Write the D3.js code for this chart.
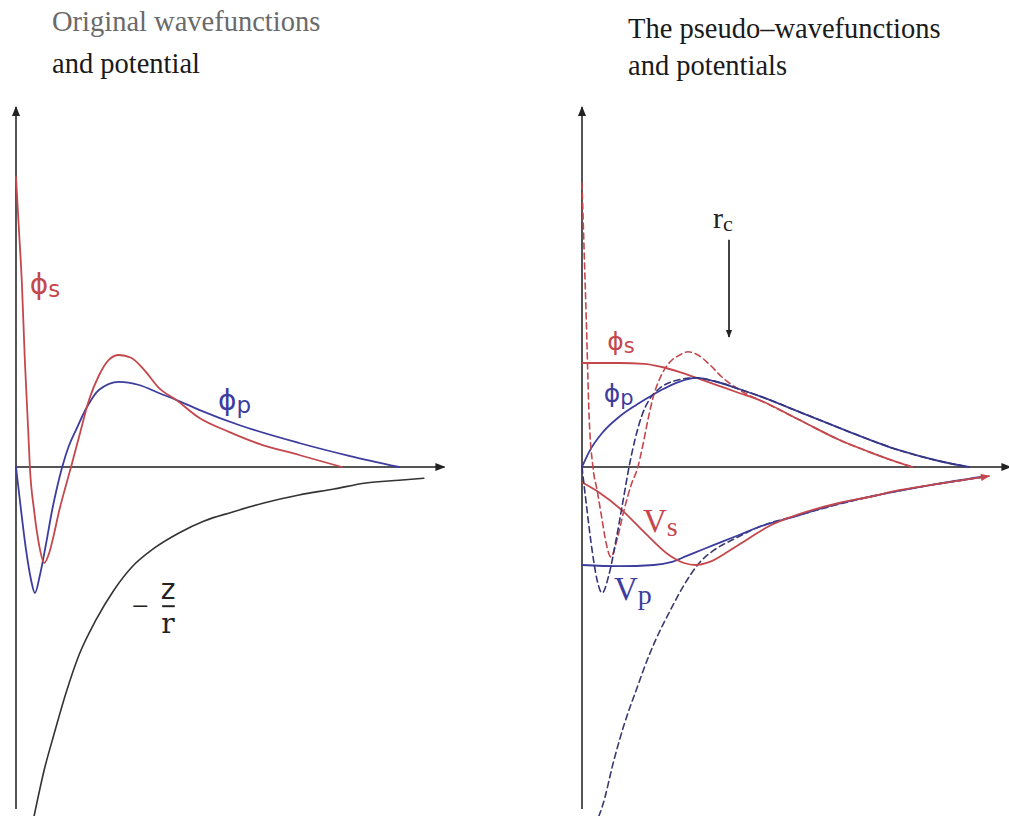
<!DOCTYPE html>
<html>
<head>
<meta charset="utf-8">
<script src="https://cdn.jsdelivr.net/npm/d3@7"></script>
<style>
  html, body { margin: 0; padding: 0; background: #fff; }
  svg { display: block; }
</style>
</head>
<body>
<svg id="chart" width="1009" height="816"></svg>
<script>
// ---- data: radial coordinate r and amplitude / potential value ----
// Left panel: all-electron wavefunctions and bare Coulomb potential
const phiS_ae_left = [[0,7.25],[0.07,5.93],[0.14,4.6],[0.21,2.68],[0.29,0.93],[0.33,0],[0.43,-1.08],[0.55,-1.95],[0.67,-2.4],[0.79,-2.15],[0.9,-1.7],[1.02,-1.13],[1.17,-0.53],[1.31,0],[1.5,0.75],[1.74,1.68],[1.98,2.3],[2.21,2.68],[2.45,2.8],[2.74,2.73],[3.05,2.43],[3.4,1.98],[3.81,1.68],[4.36,1.23],[5.07,0.88],[5.79,0.58],[6.74,0.3],[7.76,0]];
const phiP_ae_left = [[0,0],[0.12,-1.08],[0.24,-2.08],[0.36,-2.83],[0.45,-3.15],[0.57,-2.7],[0.71,-1.95],[0.86,-1.08],[0.98,-0.5],[1.1,0],[1.26,0.53],[1.43,0.93],[1.69,1.5],[1.98,1.93],[2.45,2.13],[2.93,2.05],[3.4,1.85],[3.81,1.68],[4.36,1.43],[5.31,1.05],[6.74,0.6],[7.93,0.28],[9.12,0]];
const coulomb_left = [[0.43,-8.73],[0.67,-7.58],[0.9,-6.7],[1.19,-5.65],[1.5,-4.7],[1.9,-3.83],[2.33,-3.08],[2.76,-2.5],[3.29,-2.03],[3.88,-1.65],[4.48,-1.35],[5.14,-1.13],[5.9,-0.9],[6.74,-0.7],[7.57,-0.55],[8.33,-0.4],[9.12,-0.33],[9.71,-0.28]];

// Right panel: pseudo-wavefunctions (solid), all-electron ones (dashed), pseudopotentials
const phiS_ps = [[0,2.6],[0.88,2.6],[1.48,2.58],[1.9,2.5],[2.31,2.38],[2.86,2.18],[3.26,2.03],[3.74,1.85],[4.21,1.68],[5.17,1.18],[6.12,0.68],[6.83,0.38],[7.43,0.15],[7.86,0]];
const phiP_ps = [[0,0],[0.17,0.38],[0.48,0.85],[0.88,1.25],[1.29,1.55],[1.6,1.75],[1.9,1.93],[2.31,2.13],[2.71,2.23],[3.14,2.15],[3.74,1.95],[4.21,1.78],[5.17,1.38],[6.36,0.88],[7.55,0.42],[8.5,0.15],[9.21,0]];
const phiS_ae_right = [[0,7.1],[0.05,5.43],[0.1,3.75],[0.17,1.25],[0.26,0],[0.36,-0.58],[0.48,-1.33],[0.57,-1.88],[0.69,-2.25],[0.83,-1.83],[1.0,-1.08],[1.17,-0.45],[1.33,0],[1.45,0.55],[1.57,1.18],[1.69,1.73],[1.86,2.23],[2.1,2.63],[2.33,2.8],[2.52,2.88],[2.76,2.8],[3.05,2.55],[3.33,2.25],[3.64,2.0],[4.0,1.78],[4.21,1.68],[5.17,1.18],[6.12,0.68],[6.83,0.38],[7.43,0.15],[7.86,0]];
const phiP_ae_right = [[0,0],[0.12,-1.08],[0.24,-2.08],[0.36,-2.83],[0.48,-3.15],[0.64,-2.7],[0.81,-1.83],[0.98,-0.83],[1.12,0],[1.26,0.68],[1.43,1.3],[1.6,1.68],[1.83,1.95],[2.19,2.15],[2.71,2.23],[3.14,2.15],[3.74,1.95],[4.21,1.78],[5.17,1.38],[6.36,0.88],[7.55,0.42],[8.5,0.15],[9.21,0]];
const Vs = [[0,-0.38],[0.4,-0.63],[0.95,-1.08],[1.48,-1.63],[2.07,-2.2],[2.43,-2.4],[2.71,-2.45],[3.02,-2.38],[3.5,-2.1],[3.98,-1.78],[4.45,-1.48],[5.17,-1.18],[6.12,-0.9],[6.83,-0.75],[7.55,-0.58],[8.43,-0.43],[9.69,-0.23]];
const Vp = [[0,-2.45],[0.88,-2.48],[1.71,-2.45],[2.12,-2.38],[2.48,-2.23],[2.9,-2.05],[3.31,-1.88],[3.74,-1.7],[4.21,-1.5],[4.93,-1.28],[5.88,-0.98],[6.83,-0.75],[8.43,-0.43],[9.5,-0.25]];
const coulomb_right = [[0.4,-8.73],[0.48,-8.5],[0.76,-7.33],[1.0,-6.45],[1.29,-5.58],[1.6,-4.7],[1.83,-4.15],[2.07,-3.65],[2.43,-2.95],[2.79,-2.4],[3.14,-2.08],[3.62,-1.8],[4.21,-1.5],[5.17,-1.2],[6.83,-0.75],[8.43,-0.43],[9.57,-0.25]];

// Panel titles and cutoff radius
const titlesLeft = ["Original wavefunctions", "and potential"];
const titlesRight = ["The pseudo\u2013wavefunctions", "and potentials"];
const rCut = 3.5;

// ---- layout ----
const RED = "#c4474c", BLUE = "#3d3d9e", DARK = "#333", AXIS = "#555";
const svg = d3.select("#chart");
const y = d3.scaleLinear().domain([-9, 9]).range([827, 107]);
const xL = d3.scaleLinear().domain([0, 10]).range([16, 436]);
const xR = d3.scaleLinear().domain([0, 10]).range([582, 1002]);

const defs = svg.append("defs");
function marker(id, color, w, h) {
  defs.append("marker").attr("id", id)
    .attr("viewBox", "0 0 10 10").attr("refX", 9).attr("refY", 5)
    .attr("markerWidth", w).attr("markerHeight", h)
    .attr("markerUnits", "userSpaceOnUse").attr("orient", "auto")
    .append("path").attr("d", "M0,1 L10,5 L0,9 Z").attr("fill", color);
}
marker("arrAxis", "#222", 10, 10);
marker("arrRed", RED, 12, 9);
marker("arrRc", "#222", 8, 10);

function drawPanel(x) {
  const g = svg.append("g");
  // vertical axis
  g.append("line").attr("x1", x(0)).attr("x2", x(0))
    .attr("y1", y(-8.55)).attr("y2", y(9))
    .attr("stroke", AXIS).attr("stroke-width", 2)
    .attr("marker-end", "url(#arrAxis)");
  // horizontal axis
  g.append("line").attr("x1", x(0)).attr("x2", x(10.2))
    .attr("y1", y(0)).attr("y2", y(0))
    .attr("stroke", AXIS).attr("stroke-width", 2)
    .attr("marker-end", "url(#arrAxis)");
  return g;
}

function curve(g, x, data, color, opts = {}) {
  const line = d3.line().x(d => x(d[0])).y(d => y(d[1]))
    .curve(d3.curveMonotoneX);
  const p = g.append("path").datum(data).attr("d", line)
    .attr("fill", "none").attr("stroke", color)
    .attr("stroke-width", opts.width || 1.8)
    .attr("stroke-linejoin", "round").attr("stroke-linecap", "round");
  if (opts.dash) p.attr("stroke-dasharray", opts.dash);
  if (opts.arrow) p.attr("marker-end", opts.arrow);
  return p;
}

function label(g, x, r, v, main, sub, color, opts) {
  const t = g.append("text").attr("x", x(r)).attr("y", y(v))
    .attr("fill", color).attr("font-family", opts.family)
    .attr("font-size", opts.size);
  t.append("tspan").text(main);
  if (sub) t.append("tspan").attr("dy", opts.subDy || 3)
    .attr("font-size", opts.subSize).text(sub);
}

// ---- left panel ----
const gL = drawPanel(xL);
curve(gL, xL, coulomb_left, DARK, {width: 1.6});
curve(gL, xL, phiP_ae_left, BLUE);
curve(gL, xL, phiS_ae_left, RED);

const phiFont = {family: "DejaVu Sans", size: 28, subSize: 23, subDy: 3};
label(gL, xL, 0.33, 4.33, "\u03D5", "s", RED, phiFont);
label(gL, xL, 4.81, 1.43, "\u03D5", "p", BLUE, phiFont);

// -Z/r label drawn as a stacked fraction
const fr = gL.append("g").attr("fill", "#222").attr("font-family", "Liberation Serif");
fr.append("text").attr("x", xL(2.76)).attr("y", y(-3.72)).attr("font-size", 30).text("\u2212");
fr.append("text").attr("x", xL(3.62)).attr("y", y(-3.3)).attr("text-anchor", "middle")
  .attr("font-size", 28).attr("font-family", "DejaVu Sans").text("z");
fr.append("line").attr("x1", xL(3.48)).attr("x2", xL(3.78))
  .attr("y1", y(-3.48)).attr("y2", y(-3.48)).attr("stroke", "#222").attr("stroke-width", 2);
fr.append("text").attr("x", xL(3.62)).attr("y", y(-4.15)).attr("text-anchor", "middle")
  .attr("font-size", 28).attr("font-family", "DejaVu Serif").text("r");

// ---- right panel ----
const gR = drawPanel(xR);
curve(gR, xR, coulomb_right, "#3a3a70", {width: 1.6, dash: "6,4"});
curve(gR, xR, Vp, BLUE);
curve(gR, xR, Vs, RED, {arrow: "url(#arrRed)"});
curve(gR, xR, phiS_ps, RED);
curve(gR, xR, phiP_ps, BLUE);
curve(gR, xR, phiS_ae_right, RED, {width: 1.6, dash: "6,4"});
curve(gR, xR, phiP_ae_right, "#35357a", {width: 1.6, dash: "6,4"});

const phiFontR = {family: "DejaVu Sans", size: 25, subSize: 21, subDy: 3};
label(gR, xR, 0.6, 2.93, "\u03D5", "s", RED, phiFontR);
label(gR, xR, 0.52, 1.63, "\u03D5", "p", BLUE, phiFontR);
const vFont = {family: "Liberation Serif", size: 33, subSize: 28, subDy: 4};
label(gR, xR, 1.45, -1.63, "V", "s", RED, vFont);
label(gR, xR, 0.76, -3.33, "V", "p", BLUE, vFont);

// cutoff radius marker
label(gR, xR, rCut - 0.38, 5.98, "r", "c", "#222",
  {family: "Liberation Serif", size: 30, subSize: 22, subDy: 3});
gR.append("line").attr("x1", xR(rCut)).attr("x2", xR(rCut))
  .attr("y1", y(5.68)).attr("y2", y(3.25))
  .attr("stroke", "#444").attr("stroke-width", 2)
  .attr("marker-end", "url(#arrRc)");

// ---- titles ----
function title(x0, ys, lines, colors) {
  lines.forEach((s, i) => {
    svg.append("text").attr("x", x0).attr("y", ys[i])
      .attr("font-family", "Liberation Serif").attr("font-size", 28.5)
      .attr("fill", colors[i]).text(s);
  });
}
title(52, [31, 73], titlesLeft, ["#6a6a6a", "#1a1a1a"]);
title(628, [38, 75], titlesRight, ["#1a1a1a", "#1a1a1a"]);
</script>
</body>
</html>
